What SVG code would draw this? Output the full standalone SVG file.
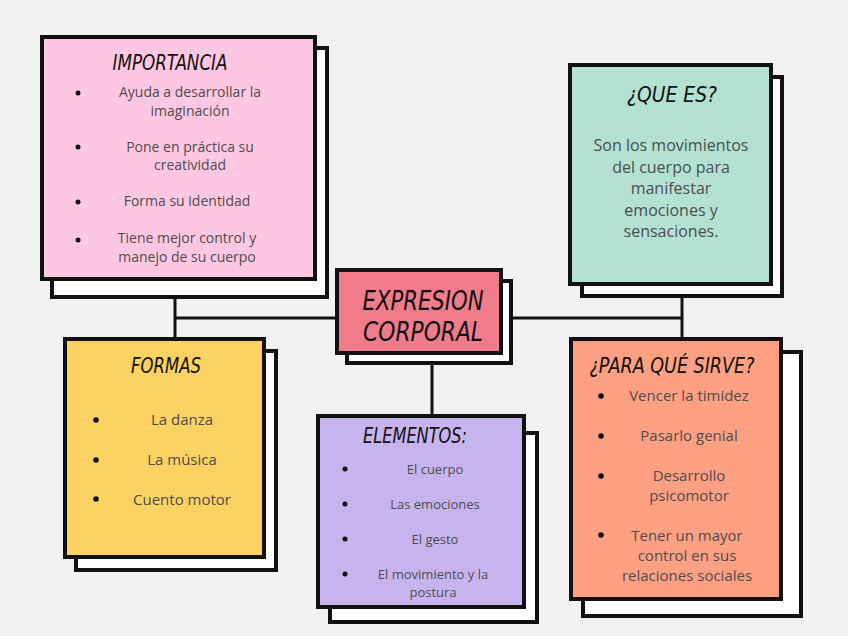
<svg xmlns="http://www.w3.org/2000/svg" width="848" height="636" viewBox="0 0 848 636">
<style>
.sh{fill:#ffffff;stroke:#111;stroke-width:4}
.fr{stroke:#111;stroke-width:4}
.hd{font-family:"DejaVu Sans Condensed","DejaVu Sans",sans-serif;font-style:italic;fill:#111;text-anchor:middle}
.tx{font-family:"Open Sans","Liberation Sans",sans-serif;fill:#4d4d4d;text-anchor:middle}
.bl{fill:#111}
.cn{stroke:#111;stroke-width:3;fill:none}
</style>
<rect width="848" height="636" fill="#f2f2f1"/>
<g id="connectors">
<line class="cn" x1="175" y1="281" x2="175" y2="338"/>
<line class="cn" x1="175" y1="318" x2="336" y2="318"/>
<line class="cn" x1="502" y1="318" x2="682" y2="318"/>
<line class="cn" x1="682" y1="296" x2="682" y2="338"/>
<line class="cn" x1="432" y1="362" x2="432" y2="416"/>
</g>
<g id="importancia">
<rect class="sh" x="52" y="48" width="275" height="249"/>
<rect class="fr" x="42" y="37" width="273" height="242" fill="#ffc7e1"/>
<text class="hd" x="170" y="70" font-size="21" textLength="115" lengthAdjust="spacingAndGlyphs">IMPORTANCIA</text>
<g class="bl"><circle cx="78" cy="93" r="2.5"/><circle cx="78" cy="147" r="2.5"/><circle cx="78" cy="202" r="2.5"/><circle cx="78" cy="240" r="2.5"/></g>
<g class="tx" font-size="14">
<text x="190" y="97">Ayuda a desarrollar la</text>
<text x="190" y="116">imaginación</text>
<text x="190" y="152">Pone en práctica su</text>
<text x="190" y="170">creatividad</text>
<text x="187" y="206">Forma su identidad</text>
<text x="187" y="243">Tiene mejor control y</text>
<text x="187" y="262">manejo de su cuerpo</text>
</g>
</g>
<g id="que-es">
<rect class="sh" x="582" y="77" width="200" height="219"/>
<rect class="fr" x="570" y="65" width="201" height="219" fill="#b3e2d3"/>
<text class="hd" x="672" y="102" font-size="21" textLength="90" lengthAdjust="spacingAndGlyphs">¿QUE ES?</text>
<g class="tx" font-size="16">
<text x="671" y="151">Son los movimientos</text>
<text x="671" y="173">del cuerpo para</text>
<text x="671" y="194">manifestar</text>
<text x="671" y="216">emociones y</text>
<text x="671" y="237">sensaciones.</text>
</g>
</g>
<g id="expresion-corporal">
<rect class="sh" x="347" y="281" width="164" height="82"/>
<rect class="fr" x="337" y="270" width="164" height="83" fill="#ef7b8b"/>
<text class="hd" x="423" y="310" font-size="26" textLength="121" lengthAdjust="spacingAndGlyphs">EXPRESION</text>
<text class="hd" x="423" y="341" font-size="26" textLength="120" lengthAdjust="spacingAndGlyphs">CORPORAL</text>
</g>
<g id="formas">
<rect class="sh" x="76" y="351" width="200" height="219"/>
<rect class="fr" x="65" y="339" width="199" height="218" fill="#fcd262"/>
<text class="hd" x="166" y="373" font-size="22" textLength="70" lengthAdjust="spacingAndGlyphs">FORMAS</text>
<g class="bl"><circle cx="96" cy="420" r="2.8"/><circle cx="96" cy="460" r="2.8"/><circle cx="96" cy="499" r="2.8"/></g>
<g class="tx" font-size="15">
<text x="182" y="425">La danza</text>
<text x="182" y="465">La música</text>
<text x="182" y="505">Cuento motor</text>
</g>
</g>
<g id="elementos">
<rect class="sh" x="330" y="433" width="207" height="189"/>
<rect class="fr" x="318" y="416" width="206" height="191" fill="#c7b4ef"/>
<text class="hd" x="415" y="443" font-size="22" textLength="104" lengthAdjust="spacingAndGlyphs">ELEMENTOS:</text>
<g class="bl"><circle cx="345" cy="469" r="2.5"/><circle cx="345" cy="504" r="2.5"/><circle cx="345" cy="539" r="2.5"/><circle cx="345" cy="574" r="2.5"/></g>
<g class="tx" font-size="13">
<text x="435" y="474">El cuerpo</text>
<text x="435" y="509">Las emociones</text>
<text x="435" y="544">El gesto</text>
<text x="433" y="579">El movimiento y la</text>
<text x="433" y="597">postura</text>
</g>
</g>
<g id="para-que-sirve">
<rect class="sh" x="583" y="352" width="218" height="264"/>
<rect class="fr" x="571" y="339" width="210" height="260" fill="#ffa083"/>
<text class="hd" x="672" y="373" font-size="22" textLength="165" lengthAdjust="spacingAndGlyphs">¿PARA QUÉ SIRVE?</text>
<g class="bl"><circle cx="601" cy="396" r="2.8"/><circle cx="601" cy="436" r="2.8"/><circle cx="601" cy="476" r="2.8"/><circle cx="601" cy="535" r="2.8"/></g>
<g class="tx" font-size="15">
<text x="689" y="401">Vencer la timidez</text>
<text x="689" y="441">Pasarlo genial</text>
<text x="689" y="481">Desarrollo</text>
<text x="689" y="501">psicomotor</text>
<text x="687" y="541">Tener un mayor</text>
<text x="687" y="561">control en sus</text>
<text x="687" y="581">relaciones sociales</text>
</g>
</g>
</svg>
